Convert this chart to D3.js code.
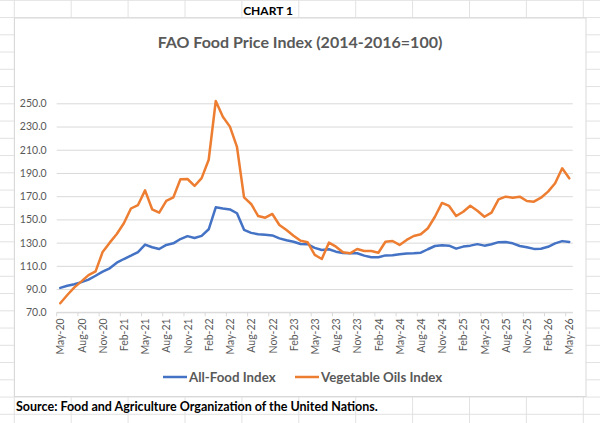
<!DOCTYPE html>
<html>
<head>
<meta charset="utf-8">
<script src="https://cdn.jsdelivr.net/npm/d3@7"></script>
<style>
  html, body { margin: 0; padding: 0; background: #ffffff; }
  svg { display: block; }
  text { font-family: Lato, "Open Sans", sans-serif; }
</style>
</head>
<body>
<svg id="chart" width="600" height="423"></svg>
<script>
const months = [
  "May-20","Jun-20","Jul-20","Aug-20","Sep-20","Oct-20","Nov-20","Dec-20",
  "Jan-21","Feb-21","Mar-21","Apr-21","May-21","Jun-21","Jul-21","Aug-21","Sep-21","Oct-21","Nov-21","Dec-21",
  "Jan-22","Feb-22","Mar-22","Apr-22","May-22","Jun-22","Jul-22","Aug-22","Sep-22","Oct-22","Nov-22","Dec-22",
  "Jan-23","Feb-23","Mar-23","Apr-23","May-23","Jun-23","Jul-23","Aug-23","Sep-23","Oct-23","Nov-23","Dec-23",
  "Jan-24","Feb-24","Mar-24","Apr-24","May-24","Jun-24","Jul-24","Aug-24","Sep-24","Oct-24","Nov-24","Dec-24",
  "Jan-25","Feb-25","Mar-25","Apr-25","May-25","Jun-25","Jul-25","Aug-25","Sep-25","Oct-25","Nov-25","Dec-25",
  "Jan-26","Feb-26","Mar-26","Apr-26","May-26"
];

const allFood = [
  91.0, 92.9, 94.2, 96.0, 98.2, 101.5, 105.0, 107.9,
  112.7, 115.9, 118.8, 121.9, 128.3, 126.0, 124.5, 128.0, 129.4, 133.1, 135.6, 134.0,
  135.8, 141.5, 160.4, 159.4, 158.6, 155.3, 141.0, 138.4, 137.3, 136.8, 136.2, 133.7,
  132.0, 130.8, 128.8, 128.6, 125.5, 123.6, 124.3, 122.2, 121.0, 120.8, 120.9, 118.8,
  117.4, 117.4, 119.0, 119.1, 120.0, 120.6, 120.8, 121.3, 124.3, 127.1, 127.7, 127.4,
  124.8, 126.6, 127.4, 128.7, 127.4, 128.6, 130.4, 130.5, 129.4, 127.1, 126.0, 124.6,
  124.8, 126.4, 129.4, 131.3, 130.6
];

const vegOils = [
  77.8, 84.9, 91.5, 96.6, 102.0, 105.3, 122.0, 130.0,
  137.4, 146.7, 159.4, 162.4, 175.0, 158.7, 155.8, 165.9, 169.0, 184.6, 184.8, 178.8,
  185.6, 201.4, 252.0, 238.5, 229.9, 212.4, 169.0, 163.3, 152.9, 151.5, 154.7, 145.2,
  140.9, 136.0, 131.7, 130.3, 119.4, 115.9, 130.0, 126.5, 121.7, 120.8, 124.5, 122.8,
  122.8, 121.3, 130.8, 131.4, 128.0, 132.3, 135.7, 137.2, 142.4, 152.3, 164.2, 161.6,
  152.9, 156.6, 161.8, 157.5, 152.3, 155.8, 167.3, 169.6, 168.7, 169.6, 165.9, 165.3,
  168.7, 173.9, 181.1, 194.0, 185.4
];

const xTickLabels = [
  "May-20","Aug-20","Nov-20","Feb-21","May-21","Aug-21","Nov-21","Feb-22","May-22",
  "Aug-22","Nov-22","Feb-23","May-23","Aug-23","Nov-23","Feb-24","May-24","Aug-24",
  "Nov-24","Feb-25","May-25","Aug-25","Nov-25","Feb-26","May-26"
];
const yTicks = [70, 90, 110, 130, 150, 170, 190, 210, 230, 250];

const seriesNames = ["All-Food Index", "Vegetable Oils Index"];
const seriesColors = ["#4472C4", "#ED7D31"];

const titleText = "FAO Food Price Index (2014-2016=100)";
const headerText = "CHART 1";
const sourceText = "Source: Food and Agriculture Organization of the United Nations.";

const W = 600, H = 423;
const svg = d3.select("#chart");

// spreadsheet background grid
const colX = d3.range(0, 11).map(k => 14.3 + k * 56.9);
const rowY = d3.range(0, 26).map(k => 0.3 + k * 17.25);
const bg = svg.append("g");
bg.selectAll("line.col").data(colX).join("line")
  .attr("x1", d => d).attr("x2", d => d).attr("y1", 0).attr("y2", H)
  .attr("stroke", "#e2e2e2").attr("stroke-width", 1);
bg.selectAll("line.row").data(rowY).join("line")
  .attr("x1", 0).attr("x2", W).attr("y1", d => d).attr("y2", d => d)
  .attr("stroke", "#e2e2e2").attr("stroke-width", 1);

// header cell text
svg.append("rect").attr("x", 243).attr("y", 1).attr("width", 55).attr("height", 16).attr("fill", "#fff");
svg.append("text").attr("x", 268).attr("y", 10).attr("text-anchor", "middle")
  .attr("dominant-baseline", "central")
  .style("font-size", "12px").style("font-weight", "bold").attr("fill", "#000")
  .text(headerText);

// chart box
svg.append("rect").attr("x", 14.5).attr("y", 18).attr("width", 571.5).attr("height", 378.5)
  .attr("fill", "#ffffff").attr("stroke", "#d9d9d9").attr("stroke-width", 1);

// source row
svg.append("text").attr("x", 16).attr("y", 406).attr("dominant-baseline", "central")
  .style("font-size", "12.5px").style("font-weight", "bold").attr("fill", "#000")
  .text(sourceText);

// title
svg.append("text").attr("x", 300).attr("y", 41).attr("text-anchor", "middle")
  .attr("dominant-baseline", "central")
  .style("font-size", "16px").style("font-weight", "bold").attr("fill", "#595959")
  .text(titleText);

// scales
const plotL = 56.7, plotR = 572.8, plotT = 103.3, plotB = 312.3;
const x = d3.scalePoint().domain(months).range([plotL, plotR]).padding(0.5);
const y = d3.scaleLinear().domain([70, 250]).range([plotB, plotT]);
const step = x.step();

// y axis + gridlines
const yAxis = svg.append("g").attr("transform", `translate(${plotL},0)`)
  .call(d3.axisLeft(y).tickValues(yTicks).tickFormat(d3.format(".1f"))
    .tickSize(-(plotR - plotL)).tickPadding(10));
yAxis.select(".domain").remove();
yAxis.selectAll(".tick line").attr("stroke", "#d9d9d9").attr("stroke-width", 1);
yAxis.selectAll(".tick text").attr("fill", "#595959")
  .style("font-size", "10.5px").style("font-family", "Lato, sans-serif");

// x axis line
svg.append("line").attr("x1", plotL).attr("x2", plotR).attr("y1", plotB).attr("y2", plotB)
  .attr("stroke", "#d9d9d9").attr("stroke-width", 1);

// x tick marks at category boundaries
svg.append("g").selectAll("line").data(xTickLabels).join("line")
  .attr("x1", d => x(d) - step / 2).attr("x2", d => x(d) - step / 2)
  .attr("y1", plotB).attr("y2", plotB + 4)
  .attr("stroke", "#d9d9d9").attr("stroke-width", 1);

// x labels
const xAxis = svg.append("g").attr("transform", `translate(0,${plotB})`)
  .call(d3.axisBottom(x).tickValues(xTickLabels).tickSize(0).tickPadding(0));
xAxis.select(".domain").remove();
xAxis.selectAll(".tick text")
  .attr("transform", "rotate(-90)")
  .attr("x", -6).attr("y", 0).attr("dy", "0.35em")
  .attr("text-anchor", "end")
  .attr("fill", "#595959")
  .style("font-size", "10.5px").style("font-family", "Lato, sans-serif");

// lines
const line = d3.line().x((d, i) => x(months[i])).y(d => y(d));
[allFood, vegOils].forEach((s, k) => {
  svg.append("path").datum(s).attr("d", line)
    .attr("fill", "none").attr("stroke", seriesColors[k])
    .attr("stroke-width", 2.5).attr("stroke-linejoin", "round").attr("stroke-linecap", "round");
});

// legend
const legendItems = [
  { name: seriesNames[0], color: seriesColors[0], x0: 163 },
  { name: seriesNames[1], color: seriesColors[1], x0: 295 }
];
const lg = svg.append("g");
legendItems.forEach(it => {
  lg.append("line").attr("x1", it.x0).attr("x2", it.x0 + 24).attr("y1", 377).attr("y2", 377)
    .attr("stroke", it.color).attr("stroke-width", 2.5);
  lg.append("text").attr("x", it.x0 + 26).attr("y", 377).attr("dominant-baseline", "central")
    .style("font-size", "13.3px").style("font-weight", "bold").attr("fill", "#595959")
    .text(it.name);
});
</script>
</body>
</html>
